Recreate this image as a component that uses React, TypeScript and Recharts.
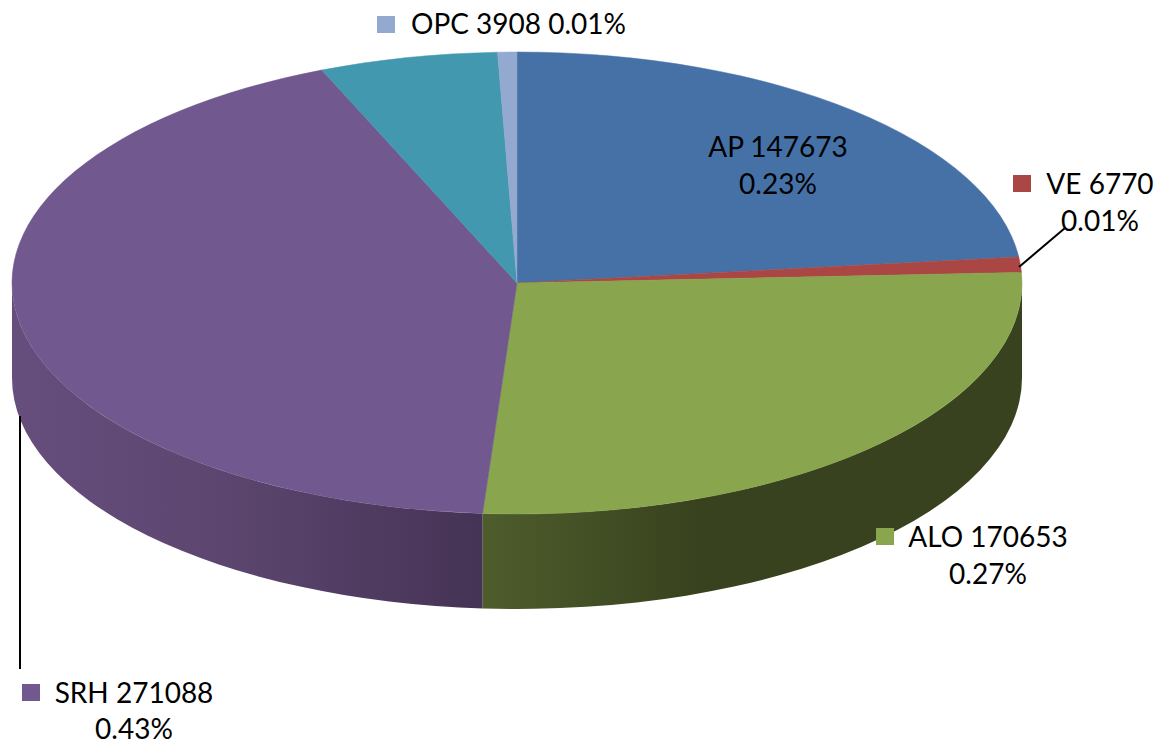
import React from "react";
import { PieChart, Pie, Cell } from "recharts";

const names = ["AP", "VE", "ALO", "SRH", "Other", "OPC"];
const values = [147673, 6770, 170653, 271088, 36300, 3908];
const shares = ["0.23%", "0.01%", "0.27%", "0.43%", "", "0.01%"];
const colors = ["#4571A7", "#AA4643", "#89A54E", "#71588F", "#4198AF", "#93A9CF"];

const data = names.map((name, i) => ({ name, value: values[i], share: shares[i] }));

const CX = 517;
const CY = 283;
const RX = 505;
const RY = 231;
const DEPTH = 95;
const FONT = "Lato, 'Open Sans', sans-serif";

// where the labels sit: key square, text lines, optional leader line
const labelLayout: Record<string, any> = {
  AP: { key: [675, 137], center: 778, y: [157, 194] },
  VE: { key: [1013, 175], center: 1100, y: [194, 231], line: "M1019 267 L1065 228" },
  ALO: { key: [876, 528], center: 988, y: [547, 584] },
  SRH: { key: [22, 684], center: 134, y: [703, 739], line: "M20 416 L20 669" },
  OPC: { key: [377, 16], start: 411, y: [34] },
};

const pt = (deg: number, dy = 0) => {
  const a = (deg * Math.PI) / 180;
  return `${CX + RX * Math.cos(a)} ${CY - RY * Math.sin(a) + dy}`;
};

// pie sector squashed to an ellipse, with the rim below it
const Slice = (props: any) => {
  const { startAngle, endAngle, fill, index } = props;
  const large = Math.abs(startAngle - endAngle) > 180 ? 1 : 0;
  const top = `M${CX} ${CY} L${pt(startAngle)} A${RX} ${RY} 0 ${large} 1 ${pt(endAngle)} Z`;
  const s = Math.min(startAngle, 0);
  const e = Math.max(endAngle, -180);
  const wallFill = names[index] === "SRH" ? "url(#wallPurple)" : "url(#wallGreen)";
  return (
    <g>
      {s > e && (
        <path
          d={`M${pt(s)} A${RX} ${RY} 0 0 1 ${pt(e)} L${pt(e, DEPTH)} A${RX} ${RY} 0 0 0 ${pt(s, DEPTH)} Z`}
          fill={wallFill}
        />
      )}
      <path d={top} fill={fill} stroke={fill} strokeWidth={0.5} />
    </g>
  );
};

const renderLabel = (props: any) => {
  const layout = labelLayout[names[props.index]];
  if (!layout) return null;
  const lines =
    layout.y.length === 1
      ? [`${props.name} ${props.value} ${shares[props.index]}`]
      : [`${props.name} ${props.value}`, shares[props.index]];
  return (
    <g key={props.name} fontFamily={FONT} fontSize={28} fill="#000">
      {layout.line && <path d={layout.line} stroke="#000" strokeWidth={2} fill="none" />}
      <rect x={layout.key[0]} y={layout.key[1]} width={18} height={17} fill={colors[props.index]} />
      {lines.map((t, i) => (
        <text
          key={i}
          x={layout.center ?? layout.start}
          y={layout.y[i]}
          textAnchor={layout.center ? "middle" : "start"}
        >
          {t}
        </text>
      ))}
    </g>
  );
};

const App = () => {
  return (
    <div style={{ position: "absolute", left: 0, top: 0 }}>
      <PieChart width={1160} height={744} margin={{ top: 0, right: 0, bottom: 0, left: 0 }}>
        <defs>
          <linearGradient id="wallPurple" gradientUnits="userSpaceOnUse" x1={12} y1={0} x2={482} y2={0}>
            <stop offset="0%" stopColor="#664E7D" />
            <stop offset="45%" stopColor="#5C466F" />
            <stop offset="100%" stopColor="#453355" />
          </linearGradient>
          <linearGradient id="wallGreen" gradientUnits="userSpaceOnUse" x1={482} y1={0} x2={1021} y2={0}>
            <stop offset="0%" stopColor="#4E5D2C" />
            <stop offset="40%" stopColor="#38421E" />
            <stop offset="100%" stopColor="#38421E" />
          </linearGradient>
        </defs>
        <Pie
          data={data}
          dataKey="value"
          nameKey="name"
          cx={CX}
          cy={CY}
          innerRadius={0}
          outerRadius={RX}
          startAngle={90}
          endAngle={-270}
          stroke="none"
          shape={Slice}
          label={renderLabel}
          labelLine={false}
          isAnimationActive={false}
        >
          {data.map((d, i) => (
            <Cell key={d.name} fill={colors[i]} />
          ))}
        </Pie>
      </PieChart>
    </div>
  );
};

export default App;
